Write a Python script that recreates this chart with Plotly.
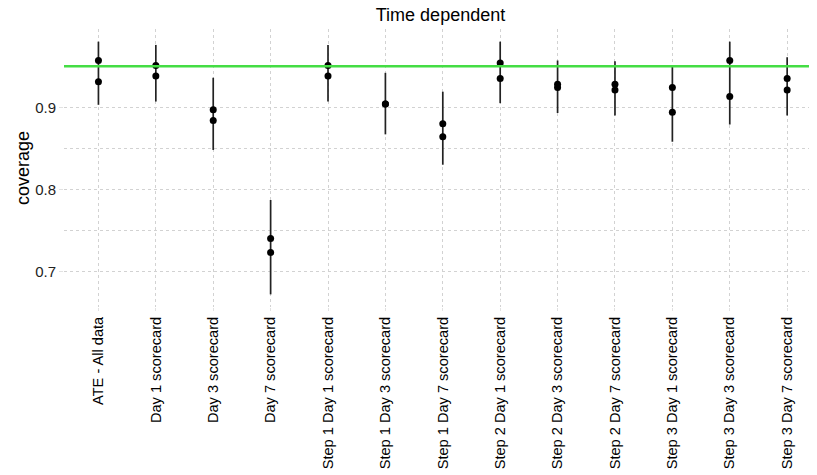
import plotly.graph_objects as go

categories = ["ATE - All data", "Day 1 scorecard", "Day 3 scorecard", "Day 7 scorecard",
              "Step 1 Day 1 scorecard", "Step 1 Day 3 scorecard", "Step 1 Day 7 scorecard",
              "Step 2 Day 1 scorecard", "Step 2 Day 3 scorecard", "Step 2 Day 7 scorecard",
              "Step 3 Day 1 scorecard", "Step 3 Day 3 scorecard", "Step 3 Day 7 scorecard"]
estimate_a = [0.957, 0.951, 0.897, 0.740, 0.951, 0.904, 0.880, 0.954, 0.928, 0.928, 0.924, 0.957, 0.935]
estimate_b = [0.931, 0.938, 0.884, 0.723, 0.938, 0.904, 0.864, 0.935, 0.924, 0.921, 0.894, 0.913, 0.921]
lower = [0.903, 0.907, 0.848, 0.672, 0.907, 0.867, 0.830, 0.905, 0.893, 0.890, 0.858, 0.879, 0.890]
upper = [0.980, 0.976, 0.936, 0.787, 0.976, 0.942, 0.919, 0.980, 0.957, 0.956, 0.950, 0.980, 0.961]
target = 0.95

FONT = "Liberation Sans, Arial, sans-serif"
GRID = "#d2d2d2"
DASH = "3px,3px"

fig = go.Figure()

# interval lines
xs, ys = [], []
for c, lo, hi in zip(categories, lower, upper):
    xs += [c, c, None]
    ys += [lo, hi, None]
fig.add_trace(go.Scatter(x=xs, y=ys, mode="lines", line=dict(color="#222222", width=1.7),
                         hoverinfo="skip", showlegend=False))

fig.add_trace(go.Scatter(x=categories, y=estimate_a, mode="markers",
                         marker=dict(color="black", size=7), showlegend=False))
fig.add_trace(go.Scatter(x=categories, y=estimate_b, mode="markers",
                         marker=dict(color="black", size=7), showlegend=False))

fig.add_hline(y=target, line=dict(color="#44dd44", width=2.5), layer="above")

fig.update_layout(
    width=809, height=467,
    margin=dict(l=56, r=0, t=21, b=168, autoexpand=False),
    paper_bgcolor="white", plot_bgcolor="white",
    title=dict(text="Time dependent", x=0.5, xanchor="center", xref="paper",
               y=0.985, yref="container", yanchor="middle", automargin=False,
               font=dict(family=FONT, size=18, color="black")),
    font=dict(family=FONT, color="black"),
    xaxis=dict(type="category", categoryorder="array", categoryarray=categories,
               range=[-0.6, 12.52], tickangle=-90, automargin=False,
               tickfont=dict(size=14.6, color="black"),
               showgrid=True, gridcolor=GRID, griddash=DASH, gridwidth=1,
               ticks="outside", ticklen=3, tickcolor="#e2e2e2",
               zeroline=False, showline=False),
    yaxis=dict(range=[0.6566, 0.9954], tickvals=[0.7, 0.8, 0.9],
               ticktext=["0.7", "0.8", "0.9"], automargin=False,
               tickfont=dict(size=15, color="#222222"),
               title=dict(text="coverage", font=dict(size=18, color="black"), standoff=0),
               showgrid=True, gridcolor=GRID, griddash=DASH, gridwidth=1,
               ticks="outside", ticklen=4, tickcolor="#e2e2e2",
               minor=dict(tickvals=[0.75, 0.85, 0.95], showgrid=True,
                          gridcolor=GRID, griddash=DASH, gridwidth=1),
               zeroline=False, showline=False),
)

fig.write_html("out.html")
